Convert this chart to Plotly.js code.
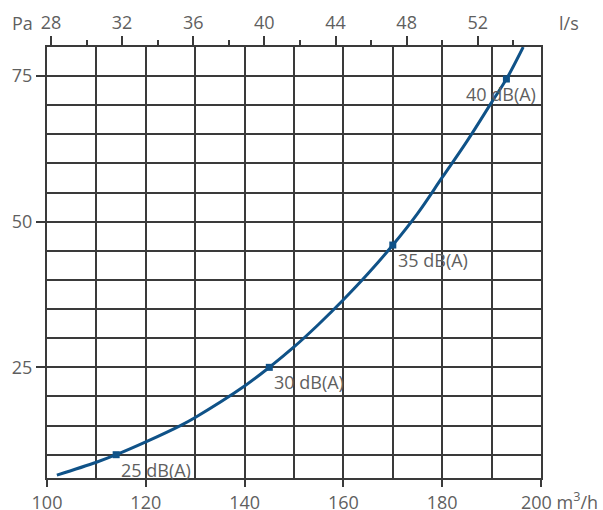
<!DOCTYPE html>
<html>
<head>
<meta charset="utf-8">
<script src="https://cdn.plot.ly/plotly-3.0.1.min.js"></script>
<style>html,body{margin:0;padding:0;background:#fff;}#chart{width:603px;height:510px;}</style>
</head>
<body>
<div id="chart"></div>
<script>
// Curve: airflow (m³/h) vs pressure (Pa)
const flowM3h = [102, 110, 114, 120, 127, 130, 140, 145, 150, 155, 160, 165, 170, 175, 180, 185, 190, 193, 196.4];
const pressurePa = [6.5, 8.7, 10, 12.2, 15, 16.4, 21.8, 25, 28.5, 32.4, 36.6, 41.1, 46, 51.4, 57.6, 63.8, 70.5, 74.5, 80];
// Sound level markers
const markerFlow = [114, 145, 170, 193];
const markerPa = [10, 25, 46, 74.5];
const markerLabels = ['25 dB(A)', '30 dB(A)', '35 dB(A)', '40 dB(A)'];
// Tick labels
const bottomTicks = [100, 120, 140, 160, 180, 200];
const bottomTickText = ['100', '120', '140', '160', '180', ''];
const topTicks = [28, 32, 36, 40, 44, 48, 52];
const topMinorTicks = [30, 34, 38, 42, 46, 50, 54];
const leftTicks = [25, 50, 75];

const textColor = '#5f5f5f';
const gridColor = '#3a3a3a';
const lineColor = '#0f5288';
const fontFam = '"Open Sans", "Noto Sans", sans-serif';
const FS = 18;

const traces = [
  {x: flowM3h, y: pressurePa, mode: 'lines', line: {color: lineColor, width: 3, shape: 'spline'}, hoverinfo: 'skip', xaxis: 'x', yaxis: 'y'},
  {x: markerFlow, y: markerPa, mode: 'markers', marker: {color: lineColor, symbol: 'square', size: 7}, xaxis: 'x', yaxis: 'y'},
  {x: flowM3h.map(v => v / 3.6), y: pressurePa, mode: 'lines', line: {width: 0}, opacity: 0, hoverinfo: 'skip', xaxis: 'x2', yaxis: 'y'}
];

const annotations = markerLabels.map((t, i) => {
  const last = i === markerLabels.length - 1;
  return {
    x: markerFlow[i], y: markerPa[i], xref: 'x', yref: 'y', text: t, showarrow: false,
    xanchor: last ? 'right' : 'left', yanchor: 'top',
    xshift: last ? 32 : 3, yshift: -1,
    font: {family: fontFam, size: FS, color: textColor}
  };
});
annotations.push(
  {xref: 'paper', yref: 'paper', x: 0, y: 1.0, text: 'Pa', showarrow: false, xanchor: 'right', yanchor: 'bottom', xshift: -12, yshift: 10, font: {family: fontFam, size: FS, color: textColor}},
  {xref: 'paper', yref: 'paper', x: 1.0, y: 1.0, text: 'l/s', showarrow: false, xanchor: 'left', yanchor: 'bottom', xshift: 16, yshift: 10, font: {family: fontFam, size: FS, color: textColor}},
  {xref: 'x', yref: 'paper', x: 200, y: 0, text: '200 m<sup>3</sup>/h', showarrow: false, xanchor: 'left', yanchor: 'top', xshift: -22, yshift: -8, font: {family: fontFam, size: FS, color: textColor}}
);

const layout = {
  width: 603, height: 510,
  margin: {l: 47, r: 62, t: 47, b: 32},
  paper_bgcolor: '#ffffff', plot_bgcolor: '#ffffff',
  showlegend: false,
  font: {family: fontFam, size: FS, color: textColor},
  xaxis: {
    range: [100, 200], tickmode: 'array', tickvals: bottomTicks, ticktext: bottomTickText,
    ticks: 'outside', ticklen: 7, tickwidth: 2, tickcolor: gridColor,
    showgrid: true, gridcolor: gridColor, gridwidth: 2,
    minor: {dtick: 10, tick0: 100, showgrid: true, gridcolor: gridColor, gridwidth: 2, ticks: ''},
    showline: true, linecolor: gridColor, linewidth: 2, mirror: true,
    zeroline: false, tickfont: {family: fontFam, size: FS, color: textColor}, fixedrange: true
  },
  xaxis2: {
    overlaying: 'x', side: 'top', anchor: 'y',
    range: [100 / 3.6, 200 / 3.6], tickmode: 'array', tickvals: topTicks, ticktext: topTicks.map(String),
    ticks: 'outside', ticklen: 10, tickwidth: 2, tickcolor: gridColor,
    minor: {tickmode: 'array', tickvals: topMinorTicks, ticks: 'outside', ticklen: 6, tickwidth: 2, tickcolor: gridColor, showgrid: false},
    showgrid: false, zeroline: false, showline: false,
    tickfont: {family: fontFam, size: FS, color: textColor}, fixedrange: true
  },
  yaxis: {
    range: [6, 80], tickmode: 'array', tickvals: leftTicks, ticktext: leftTicks.map(String),
    ticks: 'outside', ticklen: 9, tickwidth: 2, tickcolor: gridColor,
    showgrid: true, gridcolor: gridColor, gridwidth: 2,
    minor: {dtick: 5, tick0: 0, showgrid: true, gridcolor: gridColor, gridwidth: 2, ticks: ''},
    showline: true, linecolor: gridColor, linewidth: 2, mirror: true,
    zeroline: false, tickfont: {family: fontFam, size: FS, color: textColor}, fixedrange: true
  },
  annotations: annotations
};

Plotly.newPlot('chart', traces, layout, {displayModeBar: false, staticPlot: true});
</script>
</body>
</html>
